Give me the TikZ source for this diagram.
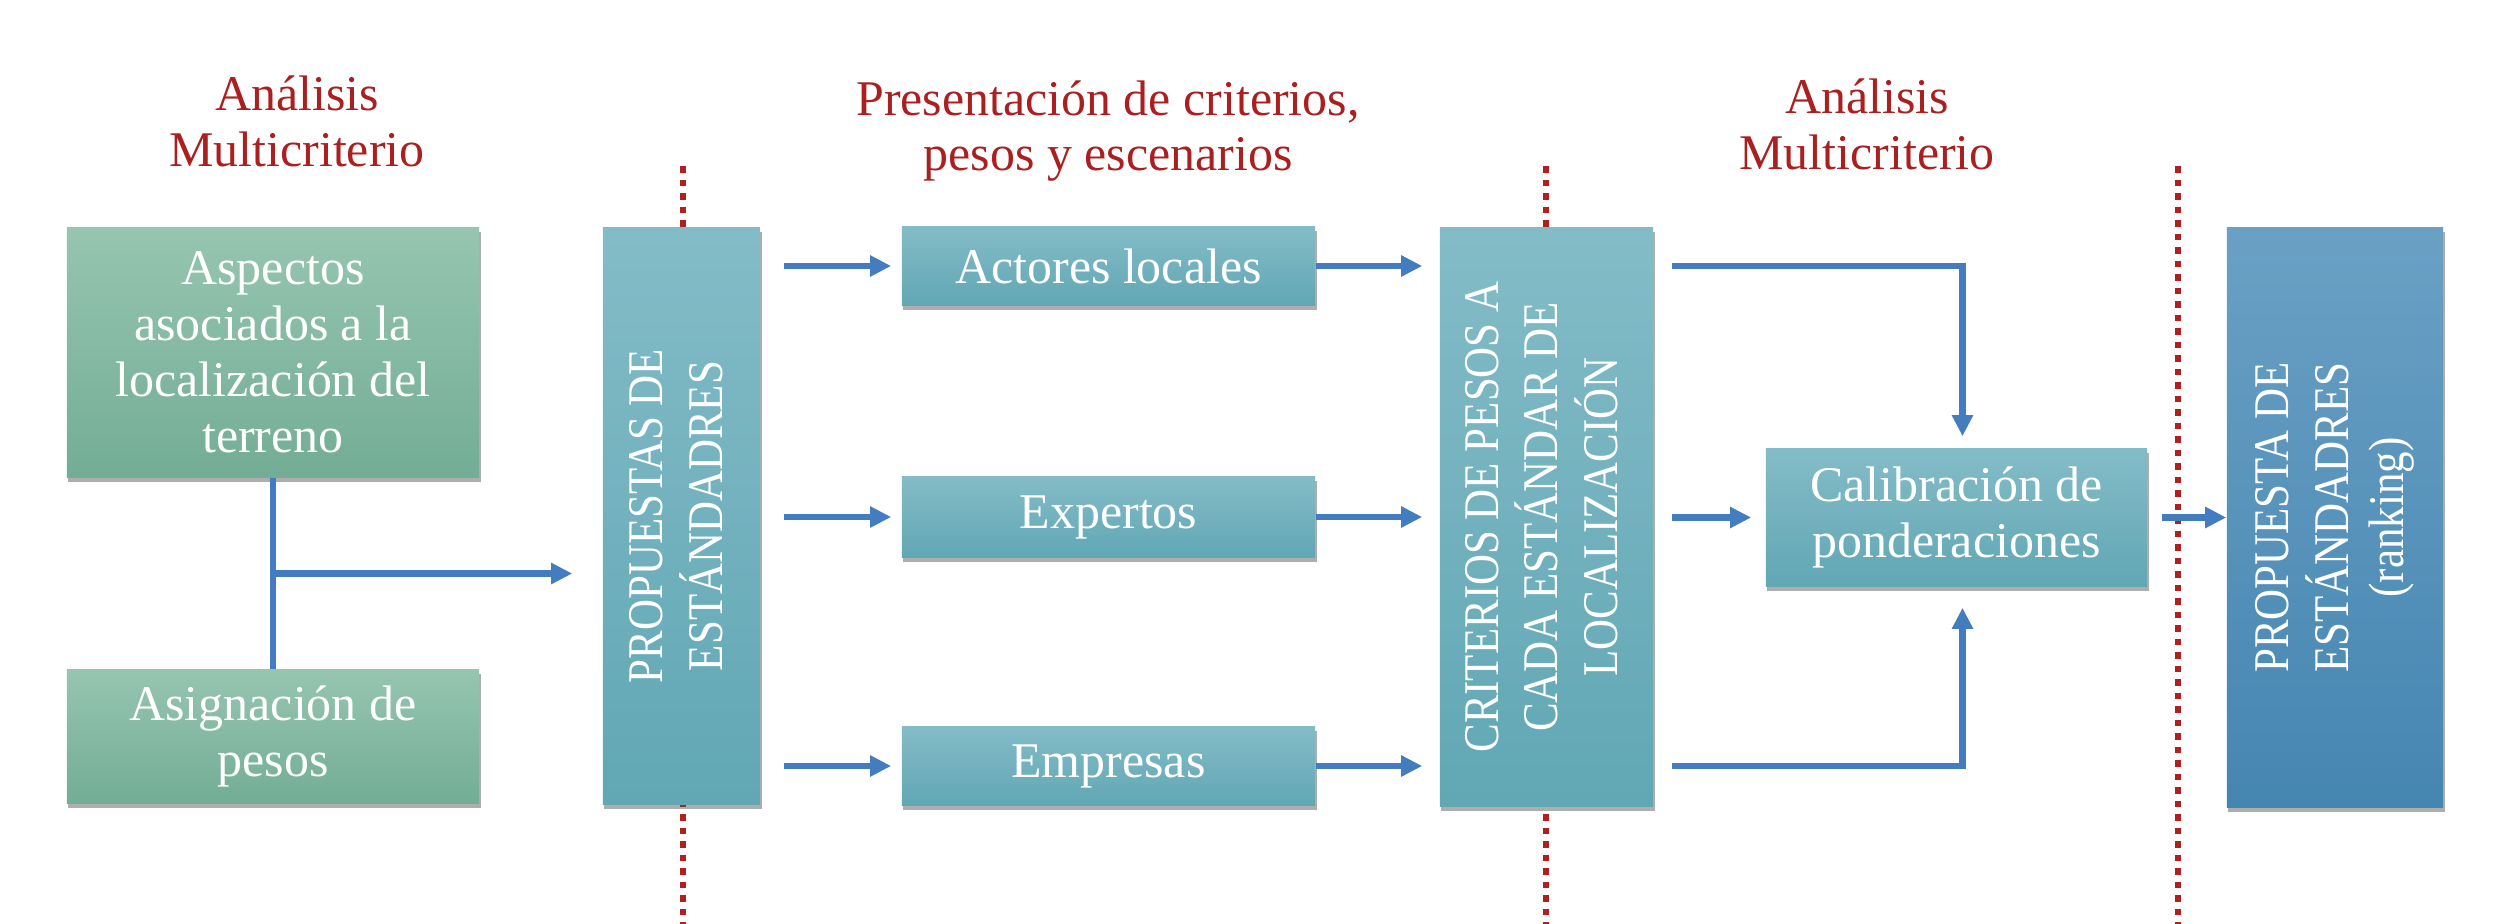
\documentclass[tikz,border=0pt]{standalone}
\usepackage{fontspec}
\setmainfont{Liberation Serif}
\newfontfamily\capsfont[FakeStretch=0.86]{Liberation Serif}
\usetikzlibrary{arrows.meta,shadows,calc}
\definecolor{redtxt}{HTML}{AA1F1F}
\definecolor{dotred}{HTML}{B0201E}
\definecolor{arrblue}{HTML}{447CC0}
\definecolor{gtop}{HTML}{96C5B0}
\definecolor{gbot}{HTML}{73AD96}
\definecolor{ttop}{HTML}{83BCC7}
\definecolor{tbot}{HTML}{61A7B4}
\definecolor{btop}{HTML}{6AA0C4}
\definecolor{bbot}{HTML}{4586B1}
\newcommand\boxfont{\fontsize{14.2pt}{15.9pt}\selectfont}
\newcommand\rotlines[1]{\rotatebox{90}{\capsfont\begin{tabular}{@{}c@{}}#1\end{tabular}}}
\tikzset{
  box/.style={rectangle, inner sep=0pt, text=white, align=center,
    drop shadow={shadow xshift=0.015cm, shadow yshift=-0.045cm, opacity=0.45, fill=black!70}},
  greenbox/.style={box, top color=gtop, bottom color=gbot, minimum width=4.12cm},
  tealbox/.style={box, top color=ttop, bottom color=tbot},
  bluebox/.style={box, top color=btop, bottom color=bbot},
  titletext/.style={text=redtxt, align=center},
  link/.style={draw=arrblue, line width=0.065cm},
  arr/.style={link, -{Triangle[length=0.21cm,width=0.2cm]}},
  dotline/.style={draw=dotred, line width=0.065cm, dash pattern=on 0.065cm off 0.07cm},
}
\begin{document}
\begin{tikzpicture}[x=0.01cm, y=-0.01cm, font=\boxfont]
\useasboundingbox (0,0) rectangle (2520,924);
% separators
\draw[dotline] (683,166) -- (683,924);
\draw[dotline] (1546,166) -- (1546,924);
\draw[dotline] (2178,166) -- (2178,924);
% titles
\node[titletext] (t1) at (297,121) {Análisis\\Multicriterio};
\node[titletext] (t2) at (1108,131) {Presentación de criterios,\\pesos y escenarios};
\node[titletext] (t3) at (1867,124) {Análisis\\Multicriterio};
% boxes
\node[greenbox, minimum height=2.49cm] (asp) at (273,352.5) {Aspectos\\asociados a la\\localización del\\terreno};
\node[greenbox, minimum height=1.33cm] (asig) at (273,736.5) {Asignación de\\pesos};
\node[tealbox, minimum width=1.57cm, minimum height=5.76cm] (prop) at (681.5,516) {\rotlines{PROPUESTAS DE\\ESTÁNDADRES}};
\node[tealbox, minimum width=4.13cm, minimum height=0.79cm] (act) at (1108.5,266) {Actores locales};
\node[tealbox, minimum width=4.13cm, minimum height=0.80cm] (exp) at (1108.5,517) {Expertos};
\node[tealbox, minimum width=4.13cm, minimum height=0.79cm] (emp) at (1108.5,766) {Empresas};
\node[tealbox, minimum width=2.13cm, minimum height=5.78cm] (crit) at (1546.5,517) {\rotlines{CRITERIOS DE PESOS A\\CADA ESTÁNDAR DE\\LOCALIZACIÓN}};
\node[tealbox, minimum width=3.81cm, minimum height=1.37cm] (cal) at (1956.5,517.5) {Calibración de\\ponderaciones};
\node[bluebox, minimum width=2.16cm, minimum height=5.79cm] (last) at (2335,517.5) {\rotlines{PROPUESTA DE\\ESTÁNDADRES\\(ranking)}};
% connectors
\coordinate (br) at ($(asp.south)!0.5!(asig.north)$);
\draw[link] (asp.south) -- (asig.north);
\draw[arr, shorten >=0.3cm] (br) -- (br -| prop.west);
\foreach \n in {act,exp,emp}{
  \draw[arr, shorten <=0.23cm, shorten >=0.1cm] (prop.east |- \n.west) -- (\n.west);
  \draw[arr, shorten >=0.17cm] (\n.east) -- (\n.east -| crit.west);
}
\draw[arr, shorten <=0.18cm, shorten >=0.12cm] (crit.east |- act.east) -| ([xshift=0.06cm]cal.north);
\draw[arr, shorten <=0.18cm, shorten >=0.14cm] (crit.east |- cal.west) -- (cal.west);
\draw[arr, shorten <=0.18cm, shorten >=0.21cm] (crit.east |- emp.east) -| ([xshift=0.06cm]cal.south);
\draw[arr, shorten <=0.14cm] (cal.east) -- (cal.east -| last.west);
\end{tikzpicture}
\end{document}
